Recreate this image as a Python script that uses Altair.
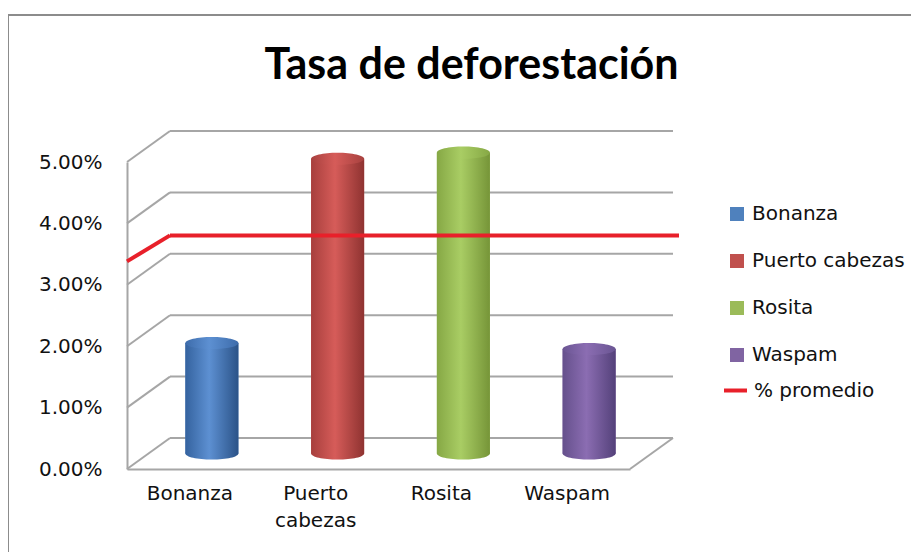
import altair as alt
import pandas as pd

# ---- data ----
categorias = ["Bonanza", "Puerto cabezas", "Rosita", "Waspam"]
tasas = [0.018, 0.048, 0.049, 0.017]
serie_promedio = ["% promedio"]
promedio = [0.033]
marcas_y = [0.0, 0.01, 0.02, 0.03, 0.04, 0.05]

colores = ["#4f81bd", "#c0504d", "#9bbb59", "#8064a2"]
# cylinder shading: (left, light, right, top)
sombras = [
    ("#35639f", "#5d90d2", "#2b5388", "#3d6cab"),
    ("#a73f3d", "#d65c59", "#8f3331", "#a8413f"),
    ("#86a845", "#a9cd64", "#769538", "#86a845"),
    ("#65508c", "#8b6db2", "#54417a", "#6a5593"),
]

df = pd.DataFrame({"categoria": categorias, "tasa": tasas})
df_grid = pd.DataFrame({"v": marcas_y})
df_prom = pd.DataFrame({"serie": serie_promedio, "v": promedio})

W, H = 503, 307
DX, DY = 43, -31          # depth offset of the back wall
MX, MY = 22, -15.5        # bars stand at mid depth
BW = 53                   # cylinder width
ELIPSE = "M-1,0 A1,0.23 0 1,1 1,0 A1,0.23 0 1,1 -1,0 Z"
GRIS = "#a6a6a6"
FUENTE = "DejaVu Sans"
TEXTO = "#111111"

x_scale = alt.Scale(domain=categorias, paddingInner=0, paddingOuter=0)
y_scale = alt.Scale(domain=[0, 0.05], nice=False)
X_AX = alt.Axis(title=None, labelAngle=0, labelExpr="split(datum.label, ' ')",
                labelPadding=14, ticks=False, domainColor=GRIS, domainWidth=2,
                labelFont=FUENTE, labelFontSize=20, labelColor=TEXTO,
                labelLineHeight=27, grid=False)
Y_AX = alt.Axis(title=None, values=marcas_y, format=".2%", ticks=False,
                domainColor=GRIS, domainWidth=2, labelPadding=25, grid=False,
                labelFont=FUENTE, labelFontSize=20, labelColor=TEXTO)

X = alt.X("categoria:N", scale=x_scale, sort=categorias, axis=X_AX)
Y = alt.Y("tasa:Q", scale=y_scale, axis=Y_AX)

def grad(c1, c2, c3):
    return {"gradient": "linear", "x1": 0, "y1": 0, "x2": 1, "y2": 0,
            "stops": [{"offset": 0, "color": c1}, {"offset": 0.45, "color": c2},
                      {"offset": 1, "color": c3}]}

# frame
marco = alt.Chart(df_grid).mark_rect(fill="transparent", stroke="#8c8c8c",
                                      strokeWidth=1.5).encode(
    x=alt.value(-119), x2=alt.value(800), y=alt.value(-147), y2=alt.value(600))

# back wall gridlines
rejilla = alt.Chart(df_grid).mark_rule(color=GRIS, strokeWidth=2, yOffset=DY).encode(
    x=alt.value(DX), x2=alt.value(W + DX),
    y=alt.Y("v:Q", scale=y_scale, axis=Y_AX))
diagonales = alt.Chart(df_grid).mark_rule(color=GRIS, strokeWidth=2, y2Offset=DY).encode(
    x=alt.value(0), x2=alt.value(DX),
    y=alt.Y("v:Q", scale=y_scale, axis=Y_AX), y2="v:Q")
piso = alt.Chart(df_grid).transform_filter(alt.datum.v == 0).mark_rule(
    color=GRIS, strokeWidth=2, y2Offset=DY).encode(
    x=alt.value(W), x2=alt.value(W + DX),
    y=alt.Y("v:Q", scale=y_scale, axis=Y_AX), y2="v:Q")

# bars carrying the legend
barras = alt.Chart(df).mark_bar(size=BW, xOffset=MX, yOffset=MY, y2Offset=MY).encode(
    x=X, y=Y,
    color=alt.Color("categoria:N", scale=alt.Scale(domain=categorias, range=colores),
                    legend=alt.Legend(title=None, orient="none", legendX=600, legendY=42,
                                      symbolType="square", symbolSize=196,
                                      symbolStrokeWidth=0, labelFontSize=20,
                                      labelFont=FUENTE, labelColor=TEXTO,
                                      rowPadding=27, padding=0, labelOffset=5)))

capas = [marco, rejilla, diagonales, piso, barras]
for cat, (c1, c2, c3, ct) in zip(categorias, sombras):
    base = alt.Chart(df).transform_filter(alt.datum.categoria == cat)
    capas.append(base.mark_point(shape=ELIPSE, size=BW * BW, filled=True, opacity=1,
                                 fill=grad(c1, c2, c3), strokeWidth=0,
                                 xOffset=MX, yOffset=MY).encode(x=X, y=alt.datum(0)))
    capas.append(base.mark_bar(size=BW, xOffset=MX, yOffset=MY, y2Offset=MY,
                               fill=grad(c1, c2, c3)).encode(x=X, y=Y))
    capas.append(base.mark_point(shape=ELIPSE, size=BW * BW, filled=True, opacity=1,
                                 fill=grad(ct, c2, ct), strokeWidth=0,
                                 xOffset=MX, yOffset=MY).encode(x=X, y=Y))

leyenda_linea = alt.Legend(title=None, orient="none", legendX=595, legendY=215,
                           symbolType="stroke", symbolSize=529, symbolStrokeWidth=4,
                           labelFontSize=20, labelFont=FUENTE,
                           labelColor=TEXTO, padding=0, labelOffset=5)
trazo = alt.Stroke("serie:N", scale=alt.Scale(domain=serie_promedio, range=["#e8202a"]),
                   legend=leyenda_linea)
linea = alt.Chart(df_prom).mark_rule(strokeWidth=4, yOffset=DY).encode(
    x=alt.value(DX), x2=alt.value(552), y=alt.Y("v:Q", scale=y_scale, axis=Y_AX),
    stroke=trazo)
linea_diag = alt.Chart(df_prom).mark_rule(strokeWidth=4, yOffset=-5, y2Offset=DY).encode(
    x=alt.value(0), x2=alt.value(DX), y=alt.Y("v:Q", scale=y_scale, axis=Y_AX),
    y2="v:Q", stroke=trazo)
capas += [linea, linea_diag]

chart = alt.layer(*capas).properties(
    width=W, height=H,
    background="white",
    title=alt.TitleParams("Tasa de deforestación", font="Lato", fontSize=43,
                          fontWeight="bold", anchor="middle", dx=93, dy=74, offset=0,
                          frame="group", color="#000000"),
    padding={"left": 119, "top": 154, "right": 281, "bottom": 83},
    autosize=alt.AutoSizeParams(type="none"),
).configure_view(stroke=None, strokeWidth=0)

chart.save("out.html", embed_options={"renderer": "svg", "actions": False})
